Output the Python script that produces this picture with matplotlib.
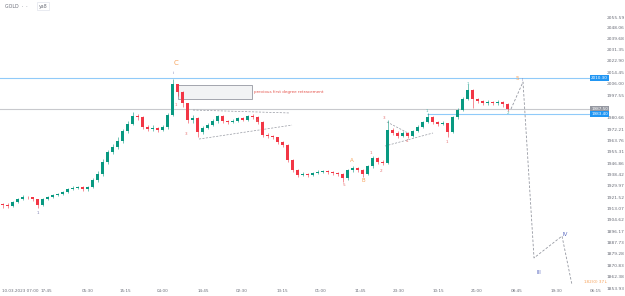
import matplotlib.pyplot as plt
import matplotlib.transforms as mtransforms
from matplotlib.patches import Rectangle

# 15m gold candles, sampled every ~5 bars (index = candle slot)
closes = [1915.7, 1915.0, 1917.9, 1920.2, 1921.7, 1921.3, 1920.2, 1915.7, 1920.2, 1921.7,
          1923.2, 1923.9, 1925.4, 1927.6, 1928.4, 1928.9, 1927.6, 1929.1, 1934.3, 1938.8,
          1947.7, 1955.2, 1958.9, 1963.3, 1970.8, 1976.0, 1982.0, 1981.2, 1973.8, 1972.3,
          1973.0, 1971.5, 1973.8, 1982.7, 2005.8, 1999.8, 1991.6, 1979.0, 1980.5, 1970.0,
          1973.0, 1975.3, 1978.2, 1982.0, 1978.2, 1977.5, 1978.2, 1980.5, 1979.0, 1982.0,
          1981.2, 1977.5, 1967.8, 1967.1, 1966.3, 1962.6, 1960.4, 1949.2, 1941.8, 1938.0,
          1938.8, 1938.0, 1939.5, 1940.3, 1941.0, 1940.3, 1939.5, 1938.8, 1935.8, 1941.8,
          1943.3, 1941.8, 1938.8, 1944.7, 1950.7, 1947.7, 1947.0, 1971.5, 1969.3, 1967.1,
          1969.3, 1967.1, 1970.8, 1973.8, 1977.5, 1981.2, 1977.5, 1976.0, 1976.8, 1970.0,
          1981.2, 1986.4, 1994.6, 2001.3, 1994.6, 1993.1, 1991.6, 1992.4, 1991.6, 1992.4,
          1990.9, 1987.2]
opens = [1916.5] + closes[:-1]
highs = [1917.5, 1917.0, 1919.0, 1921.0, 1923.0, 1922.5, 1922.0, 1920.5, 1921.0, 1922.5,
         1924.0, 1925.0, 1926.5, 1928.5, 1929.5, 1930.0, 1929.5, 1930.0, 1935.5, 1941.0,
         1950.0, 1957.0, 1961.0, 1966.0, 1972.0, 1978.0, 1985.0, 1983.5, 1982.0, 1975.0,
         1975.0, 1974.0, 1975.0, 1984.0, 2009.5, 2006.0, 2000.5, 1992.0, 1982.5, 1981.0,
         1974.5, 1976.5, 1979.5, 1983.0, 1982.5, 1979.0, 1979.5, 1981.5, 1981.0, 1983.0,
         1983.5, 1982.0, 1978.0, 1969.0, 1968.0, 1966.5, 1963.5, 1961.0, 1950.0, 1942.5,
         1940.0, 1939.5, 1940.5, 1941.5, 1942.0, 1942.0, 1941.0, 1940.0, 1939.5, 1942.5,
         1945.0, 1944.0, 1942.5, 1945.5, 1952.0, 1951.5, 1949.0, 1979.0, 1973.0, 1970.5,
         1970.5, 1970.0, 1971.5, 1975.0, 1978.5, 1984.0, 1982.0, 1978.5, 1978.0, 1977.0,
         1982.0, 1988.0, 1996.0, 2005.8, 2002.0, 1995.5, 1994.0, 1993.5, 1993.0, 1993.5,
         1993.0, 1991.5]
lows = [1913.5, 1913.5, 1914.5, 1917.0, 1919.5, 1920.0, 1919.0, 1913.6, 1915.0, 1919.5,
        1921.0, 1922.5, 1923.0, 1925.0, 1927.0, 1927.5, 1926.5, 1926.5, 1928.0, 1933.0,
        1937.5, 1946.5, 1954.0, 1957.5, 1962.0, 1969.0, 1975.0, 1979.0, 1972.0, 1970.5,
        1971.0, 1970.0, 1970.5, 1972.5, 1982.0, 1997.0, 1989.0, 1976.5, 1977.0, 1966.3,
        1968.5, 1972.0, 1974.5, 1977.0, 1977.0, 1976.0, 1976.5, 1977.5, 1978.0, 1978.0,
        1980.0, 1976.0, 1966.0, 1965.5, 1965.0, 1961.0, 1959.0, 1947.5, 1940.0, 1936.5,
        1937.0, 1936.5, 1937.5, 1938.5, 1939.5, 1939.0, 1938.0, 1937.0, 1932.8, 1934.5,
        1940.5, 1940.5, 1936.5, 1938.0, 1943.5, 1946.0, 1945.5, 1946.0, 1967.5, 1965.5,
        1966.0, 1965.6, 1966.0, 1970.0, 1973.0, 1976.5, 1976.0, 1974.5, 1975.0, 1966.3,
        1969.0, 1980.0, 1985.5, 1993.5, 1987.9, 1992.0, 1990.0, 1990.5, 1990.0, 1990.5,
        1989.0, 1985.7]

# horizontal levels
level_top = 2010.3
level_mid = 1987.5
level_low = 1983.4
level_low_start = 84.9

# projected wave path (index, price)
proj_x = [101.7, 104.1, 106.3, 111.9, 113.9]
proj_y = [1987.2, 2007.3, 1876.3, 1892.6, 1856.2]

# converging triangles
tri_lines = [
    ([38.1, 57.5], [1986.4, 1984.2]),
    ([39.3, 57.9], [1964.8, 1975.2]),
    ([76.9, 81.1], [1977.5, 1969.3]),
    ([76.5, 86.1], [1959.6, 1969.3]),
]

# wave labels: text, index, price, colour, size
wave_txt = ["C", "ii", "1", "3", "4", "1", "5", "A", "B", "1", "2", "3", "4",
            "1", "1", "1", "2", "5", "II", "III", "IV"]
wave_x = [34.7, 34.3, 34.7, 36.7, 50.9, 7.1, 68.3, 69.9, 72.1, 73.7, 75.7, 76.3, 80.9,
          84.9, 88.9, 93.1, 101.1, 102.9, 104.1, 107.3, 112.5]
wave_y = [2021.3, 2013.9, 1990.2, 1968.5, 1978.2, 1909.8, 1930.6, 1948.5, 1933.6, 1954.4,
          1941.0, 1980.5, 1963.3, 1985.7, 1962.6, 2005.8, 1984.2, 2010.2, 2008.7, 1865.8, 1894.1]
wave_col = ["#f7a35c", "#7b7fb0", "#e57373", "#e57373", "#e57373", "#7b7fb0", "#e57373",
            "#f7a35c", "#f7a35c", "#e57373", "#e57373", "#e57373", "#e57373",
            "#4db6ac", "#e57373", "#4db6ac", "#4db6ac", "#f7a35c", "#7b7fb0", "#5c6bc0", "#5c6bc0"]
wave_size = [5, 3, 3, 3, 3, 3, 3, 4, 4, 3, 3, 3, 3, 3, 3, 3, 3, 4, 3, 4, 4]

# axis ticks
price_ticks = [2055.59, 2048.06, 2039.68, 2031.35, 2022.90, 2014.45, 2006.00, 1997.55,
               1980.66, 1972.21, 1963.76, 1955.31, 1946.86, 1938.42, 1929.97,
               1921.52, 1913.07, 1904.62, 1896.17, 1887.73, 1879.28, 1870.83, 1862.38, 1853.93]
time_pos = [-0.2, 8.7, 17.1, 24.5, 32.1, 40.1, 47.9, 55.9, 63.7, 71.5, 79.3, 87.1, 94.9,
            102.9, 110.7, 118.6]
time_lbl = ["10.03.2023 07:00", "17:45", "05:30", "15:15", "04:00", "14:45", "02:30", "13:15",
            "01:00", "11:45", "23:30", "10:15", "21:00", "08:45", "19:30", "06:15"]

UP = "#089981"
DOWN = "#f23645"
LBL = "#6a6d78"

fig = plt.figure(figsize=(6.25, 2.96), dpi=100)
ax = fig.add_axes([0, 0, 590 / 625, 1])
ax.set_xlim(-0.5, 117.5)
ax.set_ylim(1847.98, 2068.29)
for s in ax.spines.values():
    s.set_visible(False)

# levels
ax.axhline(level_top, color="#90caf9", lw=0.8, zorder=1)
ax.axhline(level_mid, color="#c8c9cd", lw=0.8, zorder=1)
ax.hlines(level_low, level_low_start, 118, color="#90caf9", lw=0.8, zorder=1)

# retracement box
ax.add_patch(Rectangle((35.1, 1994.6), 14.8, 10.4, facecolor="#f2f3f4",
                       edgecolor="#9598a1", lw=0.6, zorder=1))
ax.text(50.3, 1999.8, "previous first degree retracement", color="#e5534b",
        fontsize=3.0, va="center", ha="left")

# candles
xs = list(range(len(closes)))
cols = [UP if c >= o else DOWN for o, c in zip(opens, closes)]
ax.vlines(xs, lows, highs, colors=cols, lw=0.4, zorder=3)
ax.bar(xs, [abs(c - o) + 0.3 for o, c in zip(opens, closes)], 0.45,
       bottom=[min(o, c) for o, c in zip(opens, closes)], color=cols, lw=0, zorder=4)

for xx, yy in tri_lines:
    ax.plot(xx, yy, color="#9598a1", lw=0.5, ls=(0, (3, 2)), zorder=2)

ax.plot(proj_x, proj_y, color="#9598a1", lw=0.6, ls=(0, (3, 2)), zorder=2)

for t, x, y, c, s in zip(wave_txt, wave_x, wave_y, wave_col, wave_size):
    ax.text(x, y, t, color=c, fontsize=s, ha="center", va="center", zorder=5)

# right price scale
ax.yaxis.tick_right()
ax.set_yticks(price_ticks)
ax.set_yticklabels([f"{p:.2f}" for p in price_ticks])
ax.tick_params(axis="y", length=0, pad=12, labelsize=3.2, labelcolor=LBL)
ax.set_xticks([])

for price, face in [(level_top, "#2196f3"), (level_mid, "#9598a1"), (level_low, "#2196f3")]:
    ax.text(1.002, price, f"{price:.2f}", transform=ax.get_yaxis_transform(),
            fontsize=3.0, color="white", va="center", ha="left", clip_on=False,
            bbox=dict(boxstyle="square,pad=0.25", fc=face, ec="none"))

# time axis
trans = mtransforms.blended_transform_factory(ax.transData, ax.transAxes)
for p, lbl in zip(time_pos, time_lbl):
    ax.text(p, 0.016, lbl, transform=trans, fontsize=3.0, color=LBL,
            ha="left" if p < 0 else "center", va="center", clip_on=False)

ax.text(116.3, 1858.5, "182(0) 37\u2193", color="#f7a35c", fontsize=3.0,
        ha="left", va="center", clip_on=False)

fig.text(0.008, 0.979, "GOLD  \u00b7  \u00b7", fontsize=3.4, color=LBL, va="center")
fig.text(0.062, 0.979, "ya8", fontsize=3.4, color=LBL, va="center",
         bbox=dict(boxstyle="square,pad=0.3", fc="white", ec="#e0e3eb", lw=0.5))

fig.savefig("out.png", dpi=100)
